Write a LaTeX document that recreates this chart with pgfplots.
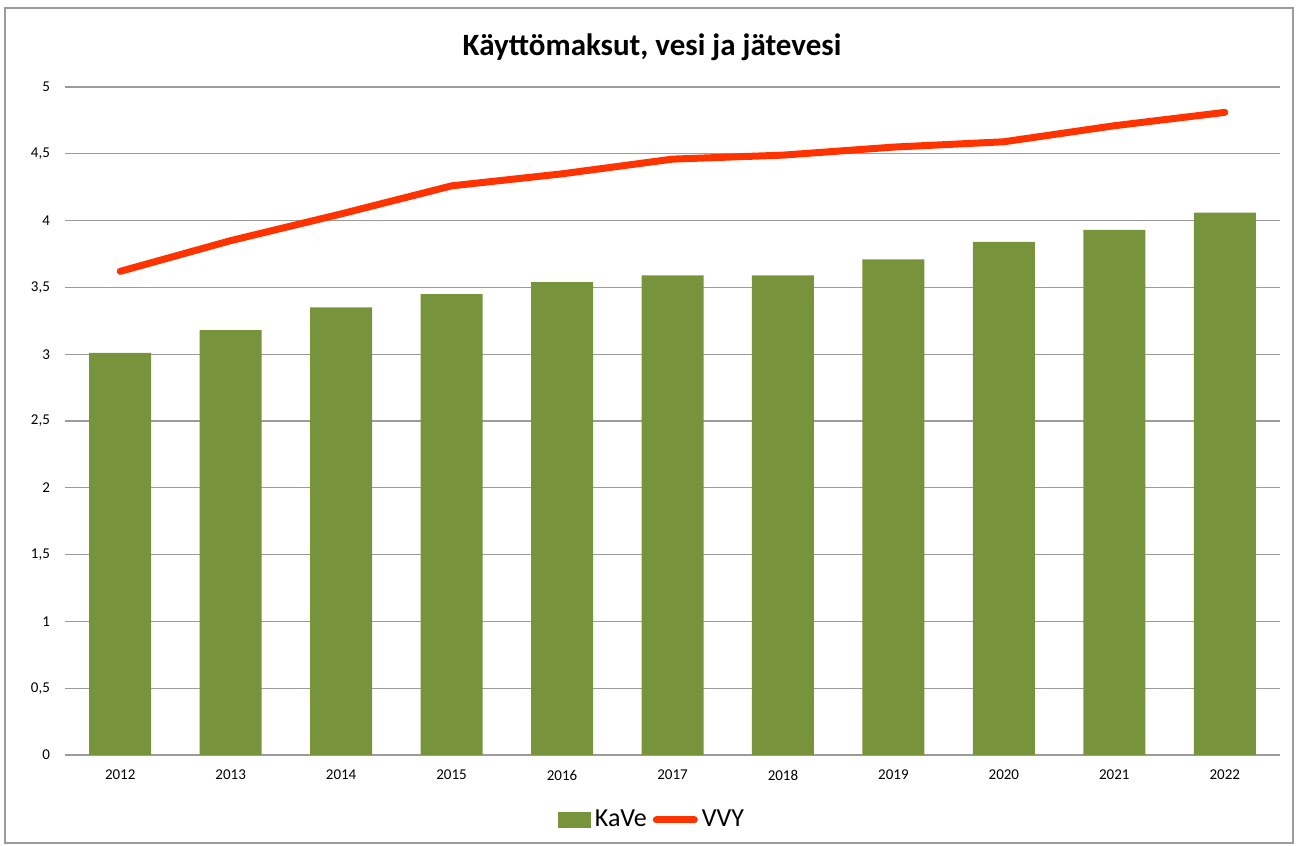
\documentclass[border=0pt]{standalone}
\usepackage{fontspec}
\setmainfont{Carlito}
\usepackage{pgfplots}
\pgfplotsset{compat=1.18}
\usetikzlibrary{calc}
\definecolor{kave}{RGB}{119,147,60}
\definecolor{vvy}{RGB}{255,51,0}
\definecolor{gridc}{RGB}{155,155,155}
\begin{document}
\begin{tikzpicture}
  \begin{axis}[
      name=ax,
      scale only axis,
      width=607.5pt, height=334pt,
      xmin=-0.5, xmax=10.5,
      ymin=0, ymax=5,
      xtick={0,...,10},
      xticklabels={2012,2013,2014,2015,2016,2017,2018,2019,2020,2021,2022},
      ytick={0,0.5,...,5},
      ymajorgrids=true,
      grid style={gridc, line width=0.6pt},
      axis line style={draw=none},
      major tick length=0pt,
      tick label style={font=\fontsize{7.5}{9}\selectfont},
      /pgf/number format/use comma,
      /pgf/number format/fixed,
      /pgf/number format/assume math mode=true,
      yticklabel style={xshift=-4pt},
      xticklabel style={yshift=-4pt},
      legend style={at={(294pt,-32.5pt)}, anchor=center, draw=none,
        legend columns=2, font=\fontsize{13}{15}\selectfont,
        /tikz/every even column/.append style={column sep=1pt}},
      legend cell align=left,
    ]
    \addplot[ybar, bar width=31pt, fill=kave, draw=none,
      legend image code/.code={\fill[kave] (0pt,-4pt) rectangle (16.5pt,4pt);}]
      coordinates {
        (0,3.01) (1,3.18) (2,3.35) (3,3.45) (4,3.54) (5,3.59)
        (6,3.59) (7,3.71) (8,3.84) (9,3.93) (10,4.06)
    };
    \addlegendentry{KaVe}
    \addplot[vvy, line width=3.5pt, line cap=round, line join=round, mark=none,
      legend image code/.code={\draw[vvy, line width=3.5pt, line cap=round] (2pt,0pt) -- (21pt,0pt);}]
      coordinates {
        (0,3.62) (1,3.85) (2,4.05) (3,4.26) (4,4.35) (5,4.46)
        (6,4.49) (7,4.55) (8,4.59) (9,4.71) (10,4.81)
    };
    \addlegendentry{VVY}
  \end{axis}
  % frame and title, positioned relative to the plot area
  \path[use as bounding box] ($(ax.south west)+(-32.5pt,-45.5pt)$) rectangle ++(648.5pt,423pt);
  \draw[gridc, line width=0.8pt] ($(ax.south west)+(-30pt,-44pt)$) rectangle ($(ax.south west)+(614pt,373.5pt)$);
  \node[font=\bfseries\fontsize{15.5}{18}\selectfont] at ($(ax.south west)+(293.5pt,354pt)$) {Käyttömaksut, vesi ja jätevesi};
\end{tikzpicture}
\end{document}
